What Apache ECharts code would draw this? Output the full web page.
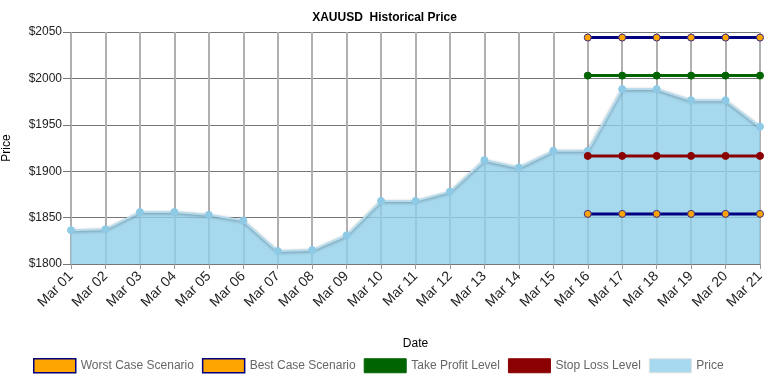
<!DOCTYPE html>
<html>
<head>
<meta charset="utf-8">
<script src="https://cdn.jsdelivr.net/npm/echarts@6/dist/echarts.min.js"></script>
<style>html,body{margin:0;padding:0;background:#fff}#c{width:769px;height:382px}</style>
</head>
<body>
<div id="c"></div>
<script>
var categories = ['Mar 01','Mar 02','Mar 03','Mar 04','Mar 05','Mar 06','Mar 07','Mar 08','Mar 09','Mar 10','Mar 11','Mar 12','Mar 13','Mar 14','Mar 15','Mar 16','Mar 17','Mar 18','Mar 19','Mar 20','Mar 21'];
var price = [1836.5, 1837.5, 1856, 1856, 1853, 1847, 1814, 1815, 1831, 1868, 1868, 1878, 1912, 1904, 1922, 1922, 1988.5, 1988.5, 1976.5, 1976.5, 1948];
var worstCase = [null,null,null,null,null,null,null,null,null,null,null,null,null,null,null,1854,1854,1854,1854,1854,1854];
var bestCase = [null,null,null,null,null,null,null,null,null,null,null,null,null,null,null,2044,2044,2044,2044,2044,2044];
var takeProfit = [null,null,null,null,null,null,null,null,null,null,null,null,null,null,null,2003,2003,2003,2003,2003,2003];
var stopLoss = [null,null,null,null,null,null,null,null,null,null,null,null,null,null,null,1916.5,1916.5,1916.5,1916.5,1916.5,1916.5];
var yMin = 1800, yMax = 2050, yStep = 50;

var chart = echarts.init(document.getElementById('c'));
var font = 'Liberation Sans, Arial, sans-serif';
function levelSeries(name, data, lineColor, dotColor, dotBorder) {
  return {
    name: name, type: 'line', data: data, z: 5,
    symbol: 'circle', symbolSize: 7, showSymbol: true,
    lineStyle: {color: lineColor, width: 3},
    itemStyle: {color: dotColor, borderColor: dotBorder, borderWidth: 1},
    emphasis: {disabled: true}, animation: false
  };
}
chart.setOption({
  animation: false,
  title: {text: 'XAUUSD  Historical Price', left: 'center', top: 7,
    textStyle: {fontFamily: font, fontSize: 12, fontWeight: 'bold', color: '#000'}},
  grid: {left: 71, right: 9, top: 32, bottom: 118, containLabel: false, outerBoundsMode: 'none'},
  legend: {
    top: 353, left: 28, itemWidth: 42, itemHeight: 14, itemGap: 8,
    textStyle: {fontFamily: font, fontSize: 12, color: '#666'},
    data: [
      {name: 'Worst Case Scenario', icon: 'rect', itemStyle: {color: '#ffa500', borderColor: '#000080', borderWidth: 1.5}},
      {name: 'Best Case Scenario', icon: 'rect', itemStyle: {color: '#ffa500', borderColor: '#000080', borderWidth: 1.5}},
      {name: 'Take Profit Level', icon: 'rect', itemStyle: {color: '#006400', borderColor: '#006400', borderWidth: 1}},
      {name: 'Stop Loss Level', icon: 'rect', itemStyle: {color: '#8b0000', borderColor: '#8b0000', borderWidth: 1}},
      {name: 'Price', icon: 'rect', itemStyle: {color: '#a6d8ef', borderColor: '#e0e0e0', borderWidth: 1}}
    ]
  },
  xAxis: {
    type: 'category', data: categories, boundaryGap: false,
    name: 'Date', nameLocation: 'middle', nameGap: 74,
    nameTextStyle: {fontFamily: font, fontSize: 12, color: '#000'},
    axisLine: {lineStyle: {color: '#777', width: 1}},
    axisTick: {show: true, alignWithLabel: true, length: 5, lineStyle: {color: '#999'}},
    axisLabel: {rotate: 45, interval: 0, fontFamily: font, fontSize: 14, color: '#222', margin: 10},
    splitLine: {show: true, lineStyle: {color: '#b0b0b0', width: 2}}
  },
  yAxis: {
    type: 'value', min: yMin, max: yMax, interval: yStep,
    name: 'Price', nameLocation: 'middle', nameGap: 58, nameRotate: 90,
    nameTextStyle: {fontFamily: font, fontSize: 12, color: '#000'},
    axisLine: {show: false},
    axisTick: {show: true, length: 8, lineStyle: {color: '#777'}},
    axisLabel: {formatter: function(v){return '$' + v;}, fontFamily: font, fontSize: 12, color: '#222', margin: 9},
    splitLine: {show: true, lineStyle: {color: '#777', width: 1}}
  },
  series: [
    levelSeries('Worst Case Scenario', worstCase, '#000080', '#ffa500', '#3a2a80'),
    levelSeries('Best Case Scenario', bestCase, '#000080', '#ffa500', '#3a2a80'),
    levelSeries('Take Profit Level', takeProfit, '#006400', '#006400', '#006400'),
    levelSeries('Stop Loss Level', stopLoss, '#8b0000', '#8b0000', '#8b0000'),
    {
      name: 'Price', type: 'line', data: price, z: 3,
      symbol: 'circle', symbolSize: 7,
      lineStyle: {color: '#b8dcec', width: 2, shadowColor: 'rgba(0,0,0,0.35)', shadowBlur: 3, shadowOffsetY: 1},
      itemStyle: {color: '#8ecae6', borderColor: '#8ecae6'},
      areaStyle: {color: '#90ceea', opacity: 0.8, origin: 'start'},
      emphasis: {disabled: true}
    }
  ]
});
</script>
</body>
</html>
